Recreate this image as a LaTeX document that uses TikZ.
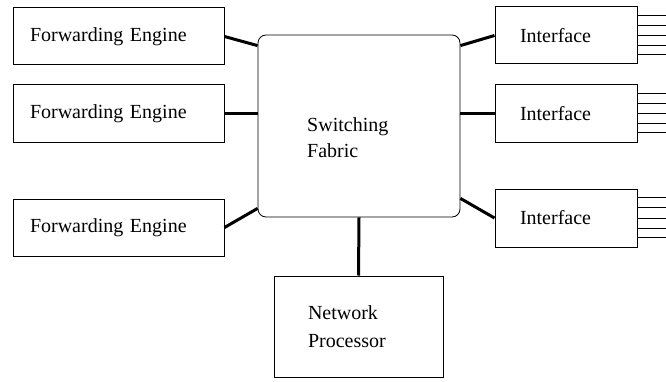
\documentclass[tikz,border=0pt]{standalone}
\usepackage{fontspec}
\setmainfont{Liberation Serif}
\usepackage{tikz}
\usetikzlibrary{calc}

\begin{document}
\begin{tikzpicture}[x=1pt,y=1pt,
  box/.style={draw,line width=1pt,align=left,font=\fontsize{20}{27}\selectfont,inner ysep=0pt},
  febox/.style={box,minimum width=211pt,minimum height=57pt,text width=177pt,inner xsep=17pt},
  ifbox/.style={box,minimum width=142pt,minimum height=57pt,text width=92pt,inner xsep=25pt},
  link/.style={line width=3pt},
  wire/.style={line width=1pt}]
\useasboundingbox (0,0) rectangle (666,381);
\node[febox] (fe1) at (118.5,344.5) {Forwarding Engine};
\node[febox] (fe2) at (118.5,267.5) {Forwarding Engine};
\node[febox] (fe3) at (118.5,153.5) {Forwarding Engine};
\node[draw,line width=0.8pt,rounded corners=8pt,minimum width=202pt,minimum height=182pt] (sf) at (359,255) {};
\node[anchor=west,inner sep=0pt,align=left,font=\fontsize{20}{26}\selectfont] (sftext) at (307,243) {Switching\\Fabric};
\node[ifbox] (if1) at (566,345.5) {Interface};
\node[ifbox] (if2) at (566,267.5) {Interface};
\node[ifbox,minimum height=58pt] (if3) at (566,163) {Interface};
\node[box,minimum width=169pt,minimum height=101pt,text width=101pt,inner xsep=34pt,font=\fontsize{20}{28}\selectfont] (np) at (358.5,54.5) {Network\\Processor};
\draw[link] (fe1.east) -- ([yshift=-11pt]sf.north west);
\draw[link] (fe2.east) -- (fe2.east -| sf.west);
\draw[link] (fe3.east) -- ([yshift=9pt]sf.south west);
\draw[link] ([yshift=-11pt]sf.north east) -- (if1.west);
\draw[link] (sf.east |- if2.west) -- (if2.west);
\draw[link] ([yshift=19pt]sf.south east) -- (if3.west);
\draw[link] (sf.south) -- (np.north);
\foreach \n in {if1,if2,if3}
  \foreach \f in {0.16,0.33,0.5,0.67,0.83}
    \draw[wire] ($(\n.north east)!\f!(\n.south east)$) -- ++(30pt,0);
\end{tikzpicture}
\end{document}
